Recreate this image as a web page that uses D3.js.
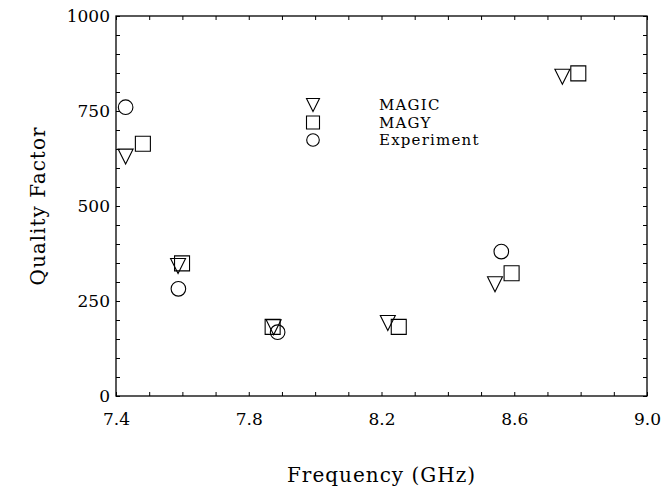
<!DOCTYPE html>
<html>
<head>
<meta charset="utf-8">
<script src="https://cdn.jsdelivr.net/npm/d3@7"></script>
<style>
  body { margin: 0; background: #fff; }
  text { font-family: "DejaVu Serif", serif; fill: #000; }
</style>
</head>
<body>
<div id="chart"></div>
<script>
// values
var magicFreq = [7.429, 7.587, 7.875, 8.219, 8.542, 8.745];
var magicQ    = [630, 342, 181, 192, 294, 840];
var magyFreq  = [7.481, 7.599, 7.872, 8.252, 8.592, 8.793];
var magyQ     = [664, 349, 182, 182, 323, 849];
var expFreq   = [7.429, 7.588, 7.887, 8.561];
var expQ      = [760, 282, 168, 380];
var seriesNames = ['MAGIC', 'MAGY', 'Experiment'];
var xTicks = [7.4, 7.8, 8.2, 8.6, 9.0];
var yTicks = [0, 250, 500, 750, 1000];

var width = 671, height = 489;
var margin = {top: 16, right: 24, bottom: 93, left: 116};

var svg = d3.select("#chart").append("svg")
  .attr("width", width)
  .attr("height", height);

var x = d3.scaleLinear().domain([7.4, 9.0]).range([margin.left, width - margin.right]);
var y = d3.scaleLinear().domain([0, 1000]).range([height - margin.bottom, margin.top]);

var minorX = d3.range(7.4, 9.001, 0.1);
var minorY = d3.range(0, 1001, 50);

// minor ticks on all four sides (inward)
function tickAxis(ax, vals, tr) {
  var g = svg.append("g").attr("transform", tr)
    .call(ax.tickValues(vals).tickSize(-4).tickFormat(""));
  g.select(".domain").remove();
  g.selectAll("line").attr("stroke", "#000").attr("stroke-width", 1);
  return g;
}
tickAxis(d3.axisBottom(x), minorX, "translate(0," + y(0) + ")");
tickAxis(d3.axisTop(x), minorX, "translate(0," + y(1000) + ")");
tickAxis(d3.axisLeft(y), minorY, "translate(" + x(7.4) + ",0)");
tickAxis(d3.axisRight(y), minorY, "translate(" + x(9.0) + ",0)");

// labels
var xAxis = svg.append("g")
  .attr("transform", "translate(0," + y(0) + ")")
  .call(d3.axisBottom(x).tickValues(xTicks).tickSize(0).tickPadding(17)
    .tickFormat(d3.format(".1f")));
xAxis.select(".domain").remove();
xAxis.selectAll("text").style("font-size", "17px").style("font-family", "DejaVu Serif");

var yAxis = svg.append("g")
  .attr("transform", "translate(" + x(7.4) + ",0)")
  .call(d3.axisLeft(y).tickValues(yTicks).tickSize(0).tickPadding(6)
    .tickFormat(d3.format("d")));
yAxis.select(".domain").remove();
yAxis.selectAll("text").style("font-size", "17px").style("font-family", "DejaVu Serif");

// frame
svg.append("rect")
  .attr("x", x(7.4)).attr("y", y(1000))
  .attr("width", x(9.0) - x(7.4)).attr("height", y(0) - y(1000))
  .attr("fill", "none").attr("stroke", "#000").attr("stroke-width", 1.3);

// symbol paths centred on 0,0
function tri(s) {
  var h = s / 2;
  return "M" + (-h) + "," + (-h) + "L" + h + "," + (-h) + "L0," + h + "Z";
}
function sq(s) {
  var h = s / 2;
  return "M" + (-h) + "," + (-h) + "H" + h + "V" + h + "H" + (-h) + "Z";
}

function plotSeries(fx, fy, draw) {
  var g = svg.append("g");
  var pts = fx.map(function(d, i) { return [d, fy[i]]; });
  draw(g.selectAll("path").data(pts).enter());
}

plotSeries(magicFreq, magicQ, function(sel) {
  sel.append("path").attr("d", tri(15))
    .attr("transform", function(d) { return "translate(" + x(d[0]) + "," + y(d[1]) + ")"; })
    .attr("fill", "none").attr("stroke", "#000").attr("stroke-width", 1.1);
});
plotSeries(magyFreq, magyQ, function(sel) {
  sel.append("path").attr("d", sq(15))
    .attr("transform", function(d) { return "translate(" + x(d[0]) + "," + y(d[1]) + ")"; })
    .attr("fill", "none").attr("stroke", "#000").attr("stroke-width", 1.1);
});
plotSeries(expFreq, expQ, function(sel) {
  sel.append("circle").attr("r", 7.3)
    .attr("cx", function(d) { return x(d[0]); })
    .attr("cy", function(d) { return y(d[1]); })
    .attr("fill", "none").attr("stroke", "#000").attr("stroke-width", 1.1);
});

// legend
var legend = svg.append("g");
var legY = [105, 122.5, 140];
seriesNames.forEach(function(name, i) {
  var cx = 313, cy = legY[i];
  if (i == 0) legend.append("path").attr("d", tri(13)).attr("transform", "translate(" + cx + "," + cy + ")");
  if (i == 1) legend.append("path").attr("d", sq(13)).attr("transform", "translate(" + cx + "," + cy + ")");
  if (i == 2) legend.append("circle").attr("cx", cx).attr("cy", cy).attr("r", 6.3);
  legend.append("text")
    .attr("x", 379).attr("y", cy + 5)
    .style("font-size", "15px")
    .style("letter-spacing", "1.2px")
    .text(name);
});
legend.selectAll("path, circle").attr("fill", "none").attr("stroke", "#000").attr("stroke-width", 1.1);

// axis titles
svg.append("text")
  .attr("x", (x(7.4) + x(9.0)) / 2).attr("y", 482)
  .attr("text-anchor", "middle")
  .style("font-size", "20px")
  .style("letter-spacing", "1px")
  .text("Frequency (GHz)");

svg.append("text")
  .attr("transform", "translate(45," + (y(500)) + ") rotate(-90)")
  .attr("text-anchor", "middle")
  .style("font-size", "20px")
  .style("letter-spacing", "1px")
  .text("Quality Factor");
</script>
</body>
</html>
